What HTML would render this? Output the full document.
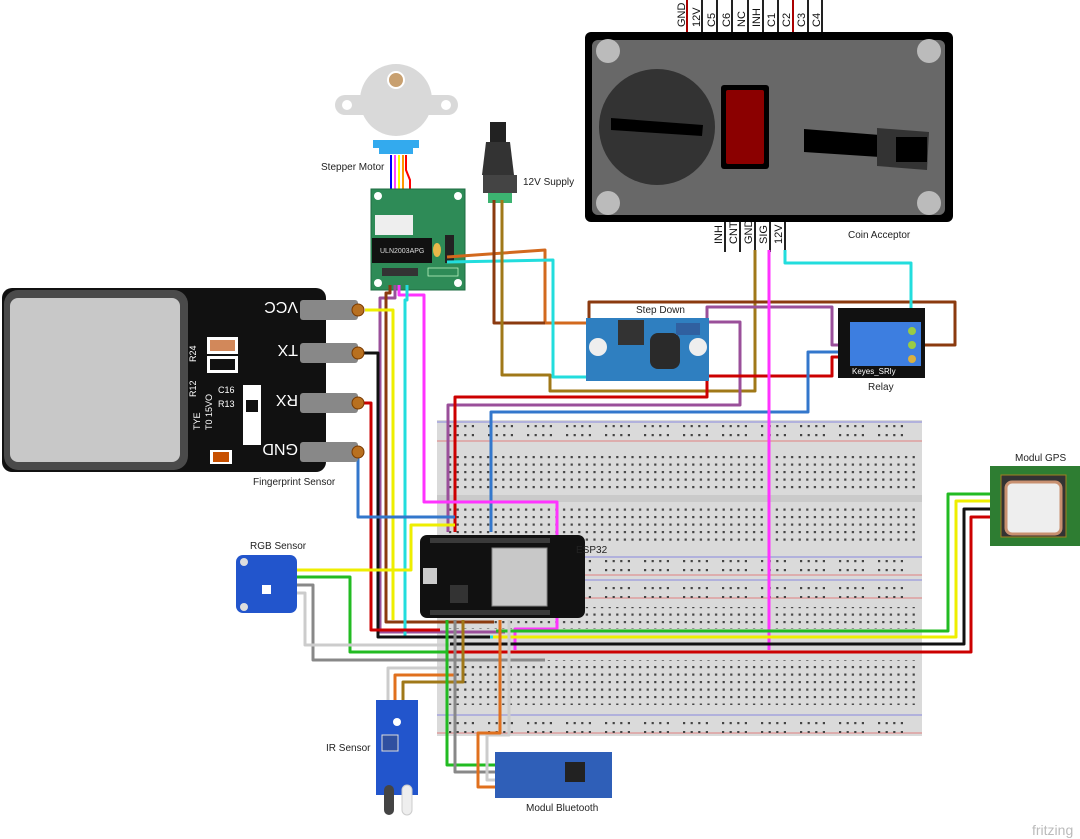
<!DOCTYPE html>
<html><head><meta charset="utf-8"><style>
html,body{margin:0;padding:0;background:#fff;}
svg{display:block;font-family:"Liberation Sans",sans-serif;}
</style></head><body>
<svg width="1080" height="839" viewBox="0 0 1080 839" xmlns="http://www.w3.org/2000/svg">
<defs>
<pattern id="h5" x="447" y="454" width="7.6" height="7.5" patternUnits="userSpaceOnUse"><rect x="2" y="2" width="2.2" height="2.2" fill="#444"/></pattern>
<pattern id="r5" x="447" y="0" width="39" height="9" patternUnits="userSpaceOnUse"><rect x="2" y="2" width="2.2" height="2.2" fill="#444"/><rect x="9.6" y="2" width="2.2" height="2.2" fill="#444"/><rect x="17.2" y="2" width="2.2" height="2.2" fill="#444"/><rect x="24.8" y="2" width="2.2" height="2.2" fill="#444"/><rect x="32.4" y="2" width="0" height="0" fill="#444"/></pattern>
</defs>

<!-- Breadboard -->
<rect x="437" y="420" width="485" height="316" fill="#dadada"/>
<line x1="437" y1="422" x2="922" y2="422" stroke="#8888dd" stroke-width="1"/>
<line x1="437" y1="441" x2="922" y2="441" stroke="#e08080" stroke-width="1"/>
<rect x="447" y="424" width="470" height="18" fill="url(#r5)"/>
<rect x="447" y="454" width="470" height="37" fill="url(#h5)"/>
<rect x="437" y="495" width="485" height="7" fill="#cacaca"/>
<rect x="447" y="505" width="470" height="37" fill="url(#h5)"/>
<line x1="437" y1="557" x2="922" y2="557" stroke="#8888dd"/>
<line x1="437" y1="575" x2="922" y2="575" stroke="#e08080"/>
<rect x="447" y="559" width="470" height="16" fill="url(#r5)"/>
<line x1="437" y1="580" x2="922" y2="580" stroke="#8888dd"/>
<line x1="437" y1="598" x2="922" y2="598" stroke="#e08080"/>
<rect x="447" y="582" width="470" height="16" fill="url(#r5)"/>
<rect x="447" y="607" width="470" height="22" fill="url(#h5)"/>
<rect x="447" y="660" width="470" height="45" fill="url(#h5)"/>
<line x1="437" y1="715" x2="922" y2="715" stroke="#8888dd"/>
<line x1="437" y1="733" x2="922" y2="733" stroke="#e08080"/>
<rect x="447" y="717" width="470" height="16" fill="url(#r5)"/>

<!-- Coin acceptor -->
<g stroke-width="2">
<line x1="687" y1="0" x2="687" y2="32" stroke="#a00"/><line x1="702" y1="0" x2="702" y2="32" stroke="#222"/><line x1="717" y1="0" x2="717" y2="32" stroke="#222"/><line x1="732" y1="0" x2="732" y2="32" stroke="#222"/><line x1="748" y1="0" x2="748" y2="32" stroke="#222"/><line x1="763" y1="0" x2="763" y2="32" stroke="#222"/><line x1="778" y1="0" x2="778" y2="32" stroke="#222"/><line x1="793" y1="0" x2="793" y2="32" stroke="#a00"/><line x1="808" y1="0" x2="808" y2="32" stroke="#222"/><line x1="822" y1="0" x2="822" y2="32" stroke="#222"/>
<line x1="725" y1="222" x2="725" y2="252" stroke="#222"/><line x1="740" y1="222" x2="740" y2="252" stroke="#222"/><line x1="755" y1="222" x2="755" y2="252" stroke="#222"/><line x1="770" y1="222" x2="770" y2="252" stroke="#222"/><line x1="785" y1="222" x2="785" y2="252" stroke="#222"/>
</g>
<g font-size="11" fill="#111">
<text transform="translate(685,27) rotate(-90)">GND</text><text transform="translate(700,27) rotate(-90)">12V</text><text transform="translate(715,27) rotate(-90)">C5</text><text transform="translate(730,27) rotate(-90)">C6</text><text transform="translate(745,27) rotate(-90)">NC</text><text transform="translate(760,27) rotate(-90)">INH</text><text transform="translate(775,27) rotate(-90)">C1</text><text transform="translate(790,27) rotate(-90)">C2</text><text transform="translate(805,27) rotate(-90)">C3</text><text transform="translate(820,27) rotate(-90)">C4</text>
<text transform="translate(722,244) rotate(-90)">INH</text><text transform="translate(737,244) rotate(-90)">CNT</text><text transform="translate(752,244) rotate(-90)">GND</text><text transform="translate(767,244) rotate(-90)">SIG</text><text transform="translate(782,244) rotate(-90)">12V</text>
</g>
<rect x="585" y="32" width="368" height="190" rx="6" fill="#000"/>
<rect x="592" y="40" width="353" height="175" rx="6" fill="#686868"/>
<circle cx="608" cy="51" r="12" fill="#bbb"/><circle cx="929" cy="51" r="12" fill="#bbb"/><circle cx="608" cy="203" r="12" fill="#bbb"/><circle cx="929" cy="203" r="12" fill="#bbb"/>
<circle cx="657" cy="127" r="58" fill="#333"/>
<polygon points="611,118 703,125 702,136 611,130" fill="#000"/>
<rect x="721" y="85" width="48" height="84" rx="3" fill="#000"/><rect x="726" y="90" width="38" height="74" rx="2" fill="#8b0000"/>
<polygon points="804,129 880,135 880,157 804,152" fill="#000"/>
<polygon points="877,128 929,132 927,170 877,166" fill="#333"/><rect x="896" y="137" width="31" height="25" fill="#000"/>
<text x="848" y="238" font-size="10" fill="#222">Coin Acceptor</text>

<!-- Stepper motor -->
<rect x="335" y="95" width="123" height="20" rx="10" fill="#d9d9d9"/>
<circle cx="347" cy="105" r="5" fill="#fff"/><circle cx="446" cy="105" r="5" fill="#fff"/>
<circle cx="396" cy="100" r="36" fill="#d9d9d9"/>
<circle cx="396" cy="80" r="8" fill="#c8a070" stroke="#fff" stroke-width="2"/>
<path d="M373,140 h46 v8 h-6 v6 h-34 v-6 h-6z" fill="#33aaee"/>
<g stroke-width="2" fill="none">
<path d="M391,155 V215" stroke="#00f"/><path d="M395,155 V215" stroke="#f4f"/><path d="M399,155 V215" stroke="#ff0"/><path d="M403,155 V215" stroke="#f90"/><path d="M406,155 V170 L410,180 V215" stroke="#f00"/>
</g>
<text x="321" y="170" font-size="10" fill="#222">Stepper Motor</text>
<!-- ULN board -->
<rect x="371" y="189" width="94" height="101" fill="#2e8b57" stroke="#1e6b40"/>
<circle cx="378" cy="196" r="4" fill="#fff"/><circle cx="458" cy="196" r="4" fill="#fff"/><circle cx="378" cy="283" r="4" fill="#fff"/><circle cx="458" cy="283" r="4" fill="#fff"/>
<rect x="375" y="215" width="38" height="20" fill="#eee"/>
<rect x="372" y="238" width="60" height="25" fill="#111"/>
<text x="380" y="253" font-size="7" fill="#ddd">ULN2003APG</text>
<ellipse cx="437" cy="250" rx="4" ry="7" fill="#e8b84a"/>
<rect x="445" y="235" width="9" height="28" fill="#222"/>
<rect x="382" y="268" width="36" height="8" fill="#333"/>
<rect x="428" y="268" width="30" height="8" fill="none" stroke="#cfc" stroke-width="0.7"/>

<!-- 12V supply -->
<rect x="490" y="122" width="16" height="20" fill="#222"/>
<polygon points="486,142 510,142 514,175 482,175" fill="#333"/>
<rect x="483" y="175" width="34" height="18" fill="#444"/>
<rect x="488" y="193" width="24" height="10" fill="#3cb371"/>
<text x="523" y="185" font-size="10" fill="#222">12V Supply</text>

<!-- Wires -->
<g fill="none" stroke-width="3" stroke-linejoin="round">
<path d="M447,257 L545,250 V323 H596" stroke="#d2691e"/>
<path d="M447,262 L553,260 V377 H596" stroke="#22dddd"/>
<path d="M494,200 V323 H545" stroke="#8b3a0f"/>
<path d="M502,200 V375 H550 V391 H755 V250" stroke="#a07818"/>
<path d="M589,320 V302 H955 V345 H922" stroke="#8b3a0f"/>
<path d="M707,322 V307 H832 V345 H845" stroke="#9a4f9a"/>
<path d="M707,322 H740 V405 H448 V532" stroke="#9a4f9a"/>
<path d="M707,376 H832 V357 H845" stroke="#c00"/>
<path d="M707,376 V397 H455 V532" stroke="#c00"/>
<path d="M845,352 H808 V412 H491 V532" stroke="#3377cc"/>
<path d="M785,250 V263 H911 V330" stroke="#22dddd"/>
<path d="M769,250 V650" stroke="#ff33ff"/>
<path d="M399,285 V295 H424 V502 H557 V629 H515 V650" stroke="#ff33ff"/>
<path d="M395,285 V298 H380 V632 H505" stroke="#9a4f9a"/>
<path d="M390,285 V293 H386 V622 H494" stroke="#8b3a0f"/>
<path d="M365,310 H393 V620" stroke="#ee0"/>
<path d="M407,285 V300 H405 V637 H496" stroke="#22dddd"/>
<path d="M362,353 H378 V637 H490" stroke="#111"/>
<path d="M362,403 H371 V630 H440" stroke="#c00"/>
<path d="M362,452 H358 V517 H455" stroke="#3377cc"/>
<path d="M990,494 H948 V631 H496" stroke="#22bb22"/>
<path d="M990,501 H956 V637 H493" stroke="#ee0"/>
<path d="M990,509 H964 V644 H450" stroke="#111"/>
<path d="M990,517 H971 V652 H447" stroke="#c00"/>
<path d="M297,570 H411 V525 H455" stroke="#ee0"/>
<path d="M297,577 H350 V652 H447" stroke="#22bb22"/>
<path d="M297,585 H313 V660 H545" stroke="#888"/>
<path d="M297,593 H305 V645 H450" stroke="#ccc"/>
<path d="M388,700 V668 H447" stroke="#ccc"/>
<path d="M395,700 V675 H455" stroke="#e0701e"/>
<path d="M403,700 V682 H463 V620" stroke="#a07818"/>
<path d="M499,765 H447 V620" stroke="#22bb22"/>
<path d="M499,772 H455 V620" stroke="#888"/>
<path d="M499,780 H487 V735 H509 V620" stroke="#ccc"/>
<path d="M499,787 H478 V733 H500 V620" stroke="#e0701e"/>
</g>

<!-- Fingerprint -->
<rect x="2" y="288" width="324" height="184" rx="10" fill="#111"/>
<rect x="4" y="290" width="184" height="180" rx="14" fill="#4a4a4a"/>
<rect x="10" y="298" width="170" height="164" rx="8" fill="#c8c8c8"/>
<g fill="#888">
<rect x="300" y="300" width="58" height="20" rx="3"/><rect x="300" y="343" width="58" height="20" rx="3"/><rect x="300" y="393" width="58" height="20" rx="3"/><rect x="300" y="442" width="58" height="20" rx="3"/>
</g>
<g fill="#b87020" stroke="#7a3a00"><circle cx="358" cy="310" r="6"/><circle cx="358" cy="353" r="6"/><circle cx="358" cy="403" r="6"/><circle cx="358" cy="452" r="6"/></g>
<g fill="#fff" font-size="16"><text transform="translate(298,302) rotate(180)">VCC</text><text transform="translate(298,345) rotate(180)">TX</text><text transform="translate(298,395) rotate(180)">RX</text><text transform="translate(298,444) rotate(180)">GND</text></g>
<rect x="207" y="337" width="31" height="17" fill="#fff"/><rect x="210" y="340" width="25" height="11" fill="#d2885a"/>
<rect x="207" y="356" width="31" height="17" fill="#fff"/><rect x="210" y="359" width="25" height="11" fill="#111"/>
<rect x="243" y="385" width="18" height="60" fill="#fff"/><rect x="246" y="400" width="12" height="12" fill="#111"/>
<rect x="210" y="450" width="22" height="14" fill="#fff"/><rect x="213" y="452" width="16" height="10" fill="#c85000"/>
<g fill="#fff" font-size="9"><text transform="translate(196,362) rotate(-90)">R24</text><text transform="translate(196,397) rotate(-90)">R12</text><text x="218" y="393">C16</text><text x="218" y="407">R13</text><text transform="translate(200,430) rotate(-90)">TYE</text><text transform="translate(212,430) rotate(-90)">T0 15VO</text></g>
<text x="253" y="485" font-size="10" fill="#222">Fingerprint Sensor</text>

<!-- Step down -->
<rect x="586" y="318" width="123" height="63" fill="#2f7fc0"/>
<circle cx="598" cy="347" r="9" fill="#eee"/><circle cx="698" cy="347" r="9" fill="#eee"/>
<rect x="618" y="320" width="26" height="25" fill="#333"/>
<rect x="650" y="333" width="30" height="36" rx="8" fill="#2a2a2a"/>
<rect x="676" y="323" width="24" height="12" fill="#3060a0"/>
<text x="636" y="313" font-size="10" fill="#222">Step Down</text>

<!-- Relay -->
<rect x="838" y="308" width="87" height="70" fill="#111"/>
<rect x="850" y="322" width="54" height="44" fill="#3d7ee0"/>
<rect x="903" y="322" width="18" height="44" fill="#3d7ee0"/>
<circle cx="912" cy="331" r="4" fill="#9c4"/><circle cx="912" cy="345" r="4" fill="#9c4"/><circle cx="912" cy="359" r="4" fill="#d9b040"/>
<text x="852" y="374" font-size="8" fill="#fff">Keyes_SRly</text>
<text x="868" y="390" font-size="10" fill="#222">Relay</text>

<!-- ESP32 -->
<rect x="420" y="535" width="165" height="83" rx="7" fill="#111"/>
<rect x="492" y="548" width="55" height="58" fill="#c8c8c8" stroke="#888"/>
<rect x="423" y="568" width="14" height="16" fill="#ccc"/>
<rect x="450" y="585" width="18" height="18" fill="#333"/>
<g fill="#3a3a3a"><rect x="430" y="538" width="120" height="5"/><rect x="430" y="610" width="120" height="5"/></g>
<text x="576" y="553" font-size="10" fill="#222">ESP32</text>

<!-- RGB sensor -->
<rect x="236" y="555" width="61" height="58" rx="7" fill="#2255cc"/>
<circle cx="244" cy="562" r="4" fill="#ddd"/><circle cx="244" cy="607" r="4" fill="#ddd"/>
<rect x="262" y="585" width="9" height="9" fill="#fff"/>
<text x="250" y="549" font-size="10" fill="#222">RGB Sensor</text>

<!-- IR sensor -->
<rect x="376" y="700" width="42" height="95" fill="#2255cc"/>
<circle cx="397" cy="722" r="4" fill="#fff"/>
<rect x="382" y="735" width="16" height="16" fill="#3050a0" stroke="#ddd"/>
<rect x="384" y="785" width="10" height="30" rx="5" fill="#444"/><rect x="402" y="785" width="10" height="30" rx="5" fill="#eee" stroke="#ccc"/>
<text x="326" y="751" font-size="10" fill="#222">IR Sensor</text>

<!-- Bluetooth -->
<rect x="495" y="752" width="117" height="46" fill="#2f5fb8"/>
<rect x="565" y="762" width="20" height="20" fill="#222"/>
<text x="526" y="811" font-size="10" fill="#222">Modul Bluetooth</text>

<!-- GPS -->
<rect x="990" y="466" width="90" height="80" fill="#2e7d32"/>
<rect x="1001" y="475" width="65" height="62" fill="#333" stroke="#a08020"/>
<rect x="1006" y="482" width="55" height="52" rx="6" fill="#eee" stroke="#c89070" stroke-width="3"/>
<text x="1015" y="461" font-size="10" fill="#222">Modul GPS</text>

<text x="1032" y="835" font-size="14" fill="#bbb">fritzing</text>
</svg>
</body></html>
